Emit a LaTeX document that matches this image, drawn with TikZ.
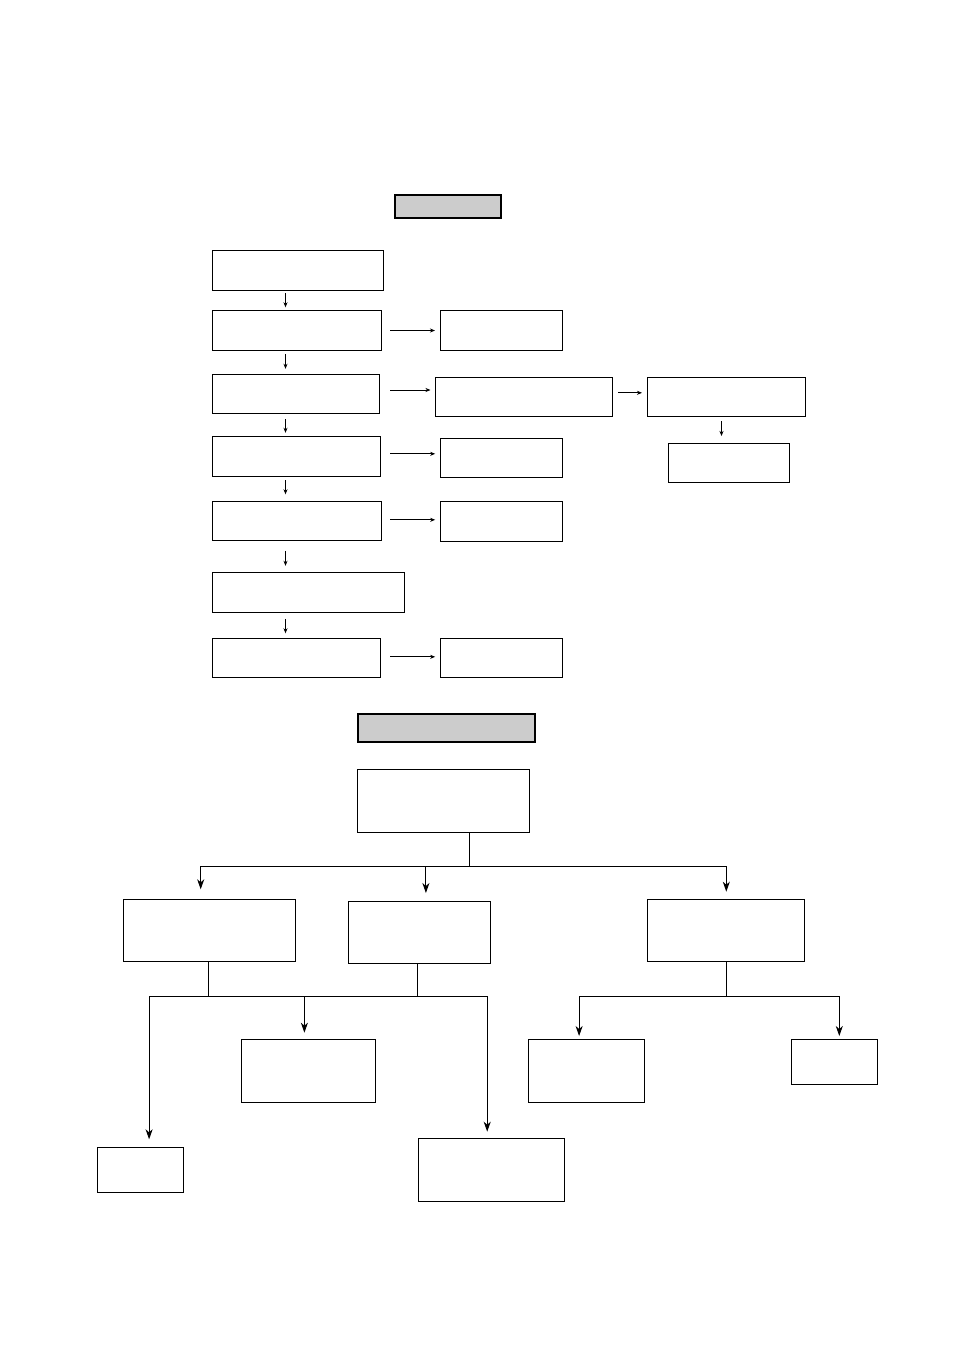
\documentclass[tikz,border=0pt]{standalone}
\usetikzlibrary{arrows.meta}
\definecolor{headgray}{HTML}{CCCCCC}
\tikzset{
  box/.style={draw=black,line width=1pt,fill=white,inner sep=0pt,anchor=north west},
  headbox/.style={draw=black,line width=2pt,fill=headgray,inner sep=0pt,anchor=north west},
  sarr/.style={line width=0.8pt,-{Stealth[length=5pt,width=4pt,inset=1.5pt]}},
  barr/.style={line width=1pt,-{Stealth[length=10pt,width=7pt,inset=3pt]}},
  bline/.style={line width=1pt}
}
\begin{document}
\begin{tikzpicture}[x=1pt,y=-1pt]
\useasboundingbox (0,0) rectangle (954,1350);
% ---------- top section ----------
\node[headbox,minimum width=105.4pt,minimum height=23.5pt] (h1) at (394.3,193.7) {};
\node[box,minimum width=170.4pt,minimum height=40pt] (b1) at (212.3,250.3) {};
\node[box,minimum width=168.4pt,minimum height=39.4pt] (b2) at (212.3,310.3) {};
\node[box,minimum width=121.4pt,minimum height=39.4pt] (b2r) at (440.3,310.3) {};
\node[box,minimum width=166.4pt,minimum height=39pt] (b3) at (212.3,374.3) {};
\node[box,minimum width=177.1pt,minimum height=39pt] (b3r) at (435.2,377.3) {};
\node[box,minimum width=158.2pt,minimum height=39pt] (b3rr) at (647.1,377.3) {};
\node[box,minimum width=120.4pt,minimum height=39pt] (b3rrd) at (668.3,443.3) {};
\node[box,minimum width=167.2pt,minimum height=39.4pt] (b4) at (212.3,436.3) {};
\node[box,minimum width=121.7pt,minimum height=39pt] (b4r) at (440,438.3) {};
\node[box,minimum width=169.1pt,minimum height=39pt] (b5) at (212.3,501.3) {};
\node[box,minimum width=121.7pt,minimum height=39.4pt] (b5r) at (440,501.3) {};
\node[box,minimum width=191.3pt,minimum height=40pt] (b6) at (212.3,572.3) {};
\node[box,minimum width=167.2pt,minimum height=39pt] (b7) at (212.3,638.3) {};
\node[box,minimum width=121.7pt,minimum height=39pt] (b7r) at (440,638.3) {};
\coordinate (cx) at (285.5,0);
\coordinate (cx2) at (721.5,0);
\draw[sarr,shorten <=2pt,shorten >=3pt] (b1.south -| cx) -- (b2.north -| cx);
\draw[sarr,shorten <=3.5pt,shorten >=5.5pt] (b2.south -| cx) -- (b3.north -| cx);
\draw[sarr,shorten <=5pt,shorten >=3.5pt] (b3.south -| cx) -- (b4.north -| cx);
\draw[sarr,shorten <=3.5pt,shorten >=7pt] (b4.south -| cx) -- (b5.north -| cx);
\draw[sarr,shorten <=9.5pt,shorten >=6.5pt] (b5.south -| cx) -- (b6.north -| cx);
\draw[sarr,shorten <=5.5pt,shorten >=5pt] (b6.south -| cx) -- (b7.north -| cx);
\draw[sarr,shorten <=3.7pt,shorten >=7.3pt] (b3rr.south -| cx2) -- (b3rrd.north -| cx2);
\draw[sarr,shorten <=8.3pt,shorten >=5.3pt] (b2.east) -- (b2r.west);
\draw[sarr,shorten <=10.3pt,shorten >=4.7pt] ([yshift=4.3pt]b3.east) -- ([yshift=7.3pt]b3r.west);
\draw[sarr,shorten <=4.7pt,shorten >=5.1pt] ([yshift=4.5pt]b3r.east) -- ([yshift=4.5pt]b3rr.west);
\draw[sarr,shorten <=9.5pt,shorten >=4.8pt] ([yshift=2.7pt]b4.east) -- ([yshift=4.5pt]b4r.west);
\draw[sarr,shorten <=7.6pt,shorten >=4.8pt] ([yshift=1.5pt]b5.east) -- ([yshift=1.7pt]b5r.west);
\draw[sarr,shorten <=9.5pt,shorten >=4.8pt] ([yshift=1.5pt]b7.east) -- ([yshift=1.5pt]b7r.west);
% ---------- bottom section ----------
\node[headbox,minimum width=177.3pt,minimum height=28.3pt] (h2) at (356.7,712.7) {};
\node[box,minimum width=171.7pt,minimum height=63pt] (root) at (357,769.3) {};
\node[box,minimum width=172.1pt,minimum height=62pt] (A) at (123.1,899.3) {};
\node[box,minimum width=141.9pt,minimum height=62pt] (B) at (348.3,901.3) {};
\node[box,minimum width=157pt,minimum height=61.7pt] (C) at (647.3,899.3) {};
\node[box,minimum width=134.3pt,minimum height=63pt] (D) at (241,1039.3) {};
\node[box,minimum width=85.7pt,minimum height=45pt] (E) at (97.1,1147.3) {};
\node[box,minimum width=146.1pt,minimum height=63pt] (F) at (418.2,1138.3) {};
\node[box,minimum width=116.9pt,minimum height=63pt] (G) at (527.5,1039.3) {};
\node[box,minimum width=86pt,minimum height=44.7pt] (H) at (791.3,1039.3) {};
% bus 1
\coordinate (bus0) at (469.3,866);
\coordinate (busL) at (200.7,866);
\coordinate (busM) at (425.9,866);
\coordinate (busR) at (726.3,866);
\draw[bline] (root.south -| bus0) -- (bus0);
\draw[bline] (busL) -- (busR);
\draw[barr,shorten >=10pt] (busL) -- (busL |- A.north);
\draw[barr,shorten >=8.3pt] (busM) -- (busM |- B.north);
\draw[barr,shorten >=7.6pt] (busR) -- (busR |- C.north);
% bus 2
\coordinate (lbL) at (149.1,996);
\coordinate (lbD) at (304.4,996);
\coordinate (lbR) at (487.2,996);
\coordinate (stA) at (208.9,996);
\coordinate (stB) at (417.2,996);
\draw[bline] (A.south -| stA) -- (stA);
\draw[bline] (B.south -| stB) -- (stB);
\draw[bline] (lbL) -- (lbR);
\draw[barr,shorten >=8pt] (lbL) -- (lbL |- E.north);
\draw[barr,shorten >=6.6pt] (lbD) -- (lbD |- D.north);
\draw[barr,shorten >=6.6pt] (lbR) -- (lbR |- F.north);
% bus 3
\coordinate (rbL) at (579.1,996);
\coordinate (rbR) at (839.3,996);
\coordinate (stC) at (726.3,996);
\draw[bline] (C.south -| stC) -- (stC);
\draw[bline] (rbL) -- (rbR);
\draw[barr,shorten >=3.3pt] (rbL) -- (rbL |- G.north);
\draw[barr,shorten >=3.3pt] (rbR) -- (rbR |- H.north);
\end{tikzpicture}
\end{document}
